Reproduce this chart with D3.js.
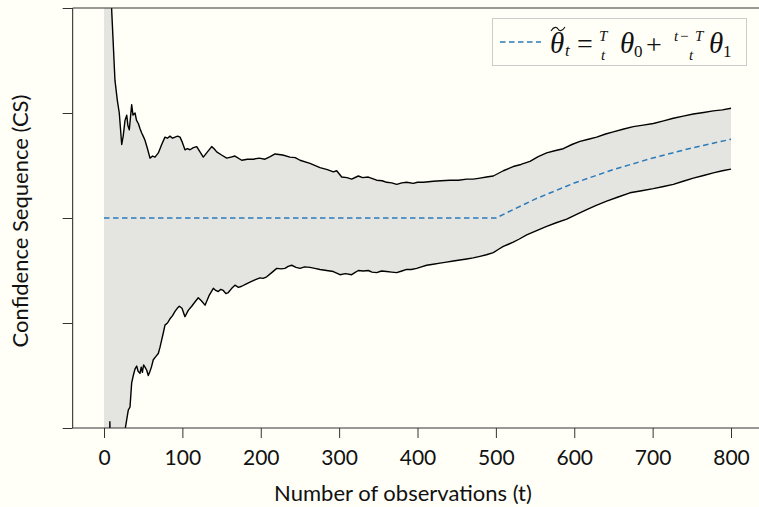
<!DOCTYPE html>
<html><head><meta charset="utf-8">
<script src="https://cdn.jsdelivr.net/npm/d3@7"></script>
<style>body{margin:0;background:#fffff7;} svg{display:block;}</style>
</head><body>
<svg id="c" width="759" height="507"></svg>
<script>
// ---- data ----
const xTicks = [0, 100, 200, 300, 400, 500, 600, 700, 800];
const yTicks = [-2, -1, 0, 1, 2];
const upperT = [0, 5, 9.8, 14, 17, 19.5, 22.6, 24.5, 26.8, 29, 30.5, 32.3, 35.3, 37, 39.6, 41.5, 43.8, 46, 48.1, 50, 52.3, 55.5, 58.7, 62, 65.1, 69.3, 71.5, 73.6, 77.8, 81, 84.2, 87.5, 90.6, 94, 97, 100, 103.3, 106.5, 109.7, 114, 118.3, 122.5, 126.7, 132, 137.4, 140.5, 143.8, 150, 156.6, 162, 167.1, 175.7, 183, 190.5, 198, 205.4, 212, 218.2, 228, 237.3, 244, 250.1, 262.8, 275.6, 285, 292.6, 296.9, 303.3, 310, 316, 324.5, 330, 337.2, 347.9, 355, 360.7, 367, 373.5, 380, 386.2, 394.6, 400, 407.4, 414, 420.2, 430, 441.5, 452, 462.8, 471, 479.7, 488, 496.7, 509.5, 522.2, 532, 543.5, 554, 564.8, 575, 586, 597, 607.3, 618, 628.6, 640, 649.8, 662, 675.3, 688, 700.9, 714, 726.4, 739, 751.9, 765, 777.4, 789, 800];
const upperV = [6, 3.5, 1.98, 1.31, 1.12, 1.0, 0.70, 0.78, 0.93, 0.98, 0.88, 0.84, 1.08, 0.98, 1.0, 0.93, 0.90, 0.85, 0.81, 0.78, 0.74, 0.66, 0.57, 0.59, 0.58, 0.62, 0.66, 0.70, 0.77, 0.76, 0.78, 0.76, 0.77, 0.78, 0.77, 0.72, 0.65, 0.66, 0.65, 0.67, 0.68, 0.63, 0.58, 0.63, 0.68, 0.66, 0.63, 0.60, 0.57, 0.58, 0.59, 0.55, 0.56, 0.56, 0.57, 0.56, 0.585, 0.61, 0.60, 0.58, 0.575, 0.55, 0.52, 0.48, 0.46, 0.44, 0.45, 0.39, 0.385, 0.37, 0.40, 0.385, 0.39, 0.36, 0.355, 0.34, 0.335, 0.32, 0.335, 0.34, 0.33, 0.34, 0.34, 0.345, 0.35, 0.355, 0.36, 0.36, 0.37, 0.37, 0.38, 0.39, 0.40, 0.45, 0.49, 0.51, 0.54, 0.585, 0.62, 0.64, 0.66, 0.70, 0.73, 0.75, 0.77, 0.80, 0.82, 0.845, 0.87, 0.885, 0.90, 0.925, 0.95, 0.97, 0.99, 1.005, 1.02, 1.03, 1.045];
const lowerT = [0, 6.5, 7.5, 8.5, 10, 20, 26.8, 29, 31, 33.2, 35.3, 37.4, 39.5, 41.7, 43.5, 45.9, 47.5, 49, 50.5, 52.3, 54.5, 56.5, 58.7, 60.5, 62.9, 66, 69.3, 71.5, 73.6, 75.5, 77.8, 81, 84.2, 87.5, 90.6, 93.5, 96.1, 99.5, 103.3, 107.5, 111.9, 116, 120.3, 124.5, 128.9, 134, 139.5, 142.5, 145.8, 149, 152.2, 155.5, 158.6, 163, 167.1, 171.5, 175.7, 181, 186.3, 192.5, 199, 203, 207.6, 214, 220.4, 226, 230.9, 235, 239.5, 245, 250.1, 256, 262.8, 269, 275.6, 284, 292.6, 301.1, 308, 316, 320, 324.5, 331, 337.2, 342, 347.9, 354, 360.7, 367, 373.5, 380, 386.2, 392, 399, 405, 411.7, 420, 428.7, 437, 445.7, 454, 462.8, 471, 479.7, 488, 496.7, 503, 509.5, 516, 522.2, 530, 539.3, 552, 564.8, 577, 590.4, 603, 615.9, 628, 641.4, 656, 671.1, 686, 700.9, 714, 726.4, 739, 751.9, 765, 777.4, 789, 800];
const lowerV = [-6, -2.4, -1.94, -2.4, -2.5, -2.6, -2.02, -1.92, -1.83, -1.80, -1.57, -1.50, -1.44, -1.41, -1.46, -1.48, -1.42, -1.47, -1.40, -1.42, -1.45, -1.50, -1.46, -1.42, -1.35, -1.32, -1.29, -1.23, -1.16, -1.10, -1.02, -1.00, -0.96, -0.93, -0.89, -0.86, -0.84, -0.86, -0.94, -0.88, -0.84, -0.80, -0.76, -0.79, -0.83, -0.74, -0.67, -0.69, -0.70, -0.68, -0.69, -0.72, -0.71, -0.67, -0.64, -0.66, -0.65, -0.63, -0.61, -0.59, -0.57, -0.575, -0.56, -0.52, -0.48, -0.485, -0.48, -0.46, -0.45, -0.47, -0.48, -0.465, -0.47, -0.48, -0.49, -0.50, -0.51, -0.54, -0.53, -0.54, -0.52, -0.50, -0.505, -0.50, -0.515, -0.52, -0.505, -0.51, -0.515, -0.52, -0.505, -0.49, -0.49, -0.48, -0.465, -0.45, -0.44, -0.43, -0.42, -0.41, -0.40, -0.39, -0.38, -0.365, -0.35, -0.33, -0.30, -0.27, -0.25, -0.23, -0.20, -0.16, -0.12, -0.08, -0.045, -0.01, 0.035, 0.08, 0.12, 0.16, 0.20, 0.24, 0.26, 0.28, 0.30, 0.32, 0.35, 0.38, 0.405, 0.43, 0.45, 0.465];
const targetT = [0, 500, 550, 600, 650, 700, 750, 800];
const targetV = [0, 0, 0.18, 0.333, 0.462, 0.571, 0.667, 0.75];

// ---- layout ----
const svg = d3.select("#c");
const L = 72.65, R = 762.35, T = 8, B = 428;
const x = d3.scaleLinear().domain([-40, 840]).range([L, R]);
const y = d3.scaleLinear().domain([-2, 2]).range([B, T]);
const axisCol = "#333";
const sansFont = "Lato, 'DejaVu Sans', sans-serif";

svg.append("rect").attr("width", 759).attr("height", 507).attr("fill", "#fffff7");
svg.append("defs").append("clipPath").attr("id", "clip")
  .append("rect").attr("x", L).attr("y", T).attr("width", R - L).attr("height", B - T);

const up = upperT.map((t, i) => [t, upperV[i]]);
const lo = lowerT.map((t, i) => [t, lowerV[i]]);
const tg = targetT.map((t, i) => [t, targetV[i]]);
const line = d3.line().x(d => x(d[0])).y(d => y(d[1]));

const g = svg.append("g").attr("clip-path", "url(#clip)");
g.append("path").attr("d", line(up.concat(lo.slice().reverse())) + "Z")
  .attr("fill", "#e4e4e0").attr("stroke", "none");
g.append("path").attr("d", line(up)).attr("fill", "none").attr("stroke", "#000").attr("stroke-width", 1.4).attr("stroke-linejoin", "round");
g.append("path").attr("d", line(lo)).attr("fill", "none").attr("stroke", "#000").attr("stroke-width", 1.4).attr("stroke-linejoin", "round");
g.append("path").attr("d", line(tg)).attr("fill", "none").attr("stroke", "#2b7bba").attr("stroke-width", 1.5).attr("stroke-dasharray", "5.5,3.5");

// axes
const xAxis = d3.axisBottom(x).tickValues(xTicks).tickSize(10).tickFormat(d3.format("d"));
const yAxis = d3.axisLeft(y).tickValues(yTicks).tickSize(10).tickFormat("");
const gx = svg.append("g").attr("transform", `translate(0,${B})`).call(xAxis);
const gy = svg.append("g").attr("transform", `translate(${L},0)`).call(yAxis);
[gx, gy].forEach(a => {
  a.select(".domain").remove();
  a.selectAll(".tick line").attr("stroke", axisCol).attr("stroke-width", 1);
});
gx.selectAll(".tick text").attr("font-family", sansFont).attr("font-size", 21).attr("fill", "#111")
  .attr("y", 37).attr("dy", 0);
// spines
svg.append("line").attr("x1", L).attr("x2", R).attr("y1", B).attr("y2", B).attr("stroke", axisCol).attr("stroke-width", 1.1);
svg.append("line").attr("x1", L).attr("x2", R).attr("y1", T).attr("y2", T).attr("stroke", axisCol).attr("stroke-width", 1.1);
svg.append("line").attr("x1", L).attr("x2", L).attr("y1", T).attr("y2", B).attr("stroke", axisCol).attr("stroke-width", 1.1);

svg.append("text").attr("x", 403).attr("y", 501).attr("text-anchor", "middle")
  .attr("font-family", sansFont).attr("font-size", 22).attr("fill", "#111").text("Number of observations (t)");
svg.append("text").attr("transform", "translate(28,221) rotate(-90)").attr("text-anchor", "middle")
  .attr("font-family", sansFont).attr("font-size", 22).attr("fill", "#111").text("Confidence Sequence (CS)");

// legend
const lg = svg.append("g");
lg.append("rect").attr("x", 492.5).attr("y", 18.5).attr("width", 254).attr("height", 47)
  .attr("fill", "#fffff7").attr("stroke", "#cccccc").attr("stroke-width", 1);
lg.append("line").attr("x1", 500).attr("x2", 541).attr("y1", 42).attr("y2", 42)
  .attr("stroke", "#2b7bba").attr("stroke-width", 1.5).attr("stroke-dasharray", "5.5,3.5");
const mf = "'Liberation Serif', 'DejaVu Serif', serif";
function mt(xp, yp, s, size, italic) {
  lg.append("text").attr("x", xp).attr("y", yp).attr("font-family", mf).attr("font-size", size)
    .attr("font-style", italic ? "italic" : "normal").attr("fill", "#111").text(s);
}
mt(550, 53, "θ", 29, true);
// wide tilde accent
lg.append("path").attr("d", "M551,31 C554,26 557,27 558,29 C559,31 562,32 565,27")
  .attr("fill", "none").attr("stroke", "#111").attr("stroke-width", 1.1);
mt(565, 56, "t", 17, true);
mt(577, 53, "=", 28, false);
mt(599, 41, "T", 15, true);
mt(601, 60, "t", 15, true);
mt(620, 53, "θ", 29, true);
mt(634, 57, "0", 17, false);
mt(646, 54, "+", 28, false);
mt(674, 41, "t", 15, true);
mt(680, 41, "−", 15, false);
mt(695, 41, "T", 15, true);
mt(689, 60, "t", 15, true);
mt(709, 53, "θ", 29, true);
mt(723, 57, "1", 17, false);
</script>
</body></html>
